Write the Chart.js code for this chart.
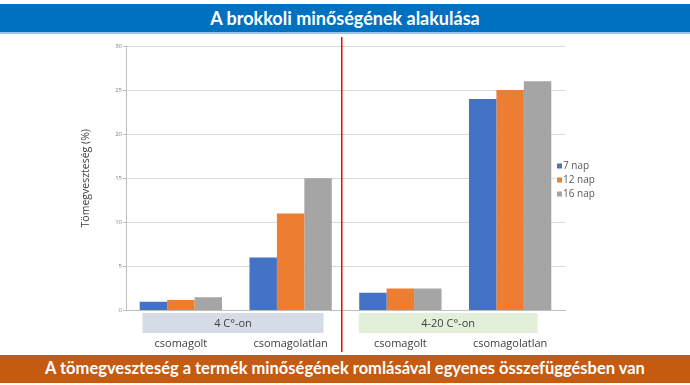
<!DOCTYPE html>
<html>
<head>
<meta charset="utf-8">
<script src="https://cdn.jsdelivr.net/npm/chart.js@4.4.1/dist/chart.umd.min.js"></script>
<style>
  html, body { margin: 0; padding: 0; background: #fff; }
  #wrap { position: relative; width: 690px; height: 385px; overflow: hidden; }
  canvas { position: absolute; left: 0; top: 0; }
  .banner { position: absolute; left: 0; width: 690px; color: #fff; font-family: Lato, "Open Sans", sans-serif; font-weight: bold; text-align: center; white-space: nowrap; }
  #top { top: 4px; height: 30px; line-height: 29px; background: #0070C0; font-size: 18px; border-bottom: 2px solid #9DC3E6; box-sizing: border-box; }
  #bottom { top: 355px; height: 28px; line-height: 27px; background: #C55A11; font-size: 16.5px; }
</style>
</head>
<body>
<div id="wrap">
  <canvas id="c" width="690" height="385"></canvas>
  <div class="banner" id="top">A brokkoli minőségének alakulása</div>
  <div class="banner" id="bottom">A tömegveszteség a termék minőségének romlásával egyenes összefüggésben van</div>
</div>
<script>
const categories = ['csomagolt', 'csomagolatlan', 'csomagolt', 'csomagolatlan'];
const groupLabels = ['4 C°-on', '4-20 C°-on'];
const seriesNames = ['7 nap', '12 nap', '16 nap'];
const nap7 = [1.0, 6, 2.0, 24];
const nap12 = [1.2, 11, 2.5, 25];
const nap16 = [1.5, 15, 2.5, 26];
const yTicks = [0, 5, 10, 15, 20, 25, 30];

const colors = ['#4472C4', '#ED7D31', '#A5A5A5'];
const seriesValues = [nap7, nap12, nap16];

const decorPlugin = {
  id: 'decor',
  beforeDatasetsDraw(chart) {
    const ctx = chart.ctx;
    const x = chart.scales.x;
    const boxes = [
      { from: -0.35, to: 1.3, color: '#D6DCE5', label: groupLabels[0] },
      { from: 1.62, to: 3.25, color: '#E2F0D9', label: groupLabels[1] }
    ];
    ctx.save();
    boxes.forEach(b => {
      const x1 = x.getPixelForValue(b.from);
      const x2 = x.getPixelForValue(b.to);
      ctx.fillStyle = b.color;
      ctx.fillRect(x1, 313, x2 - x1, 20);
      ctx.fillStyle = '#404040';
      ctx.font = '11px "Open Sans", sans-serif';
      ctx.textAlign = 'center';
      ctx.textBaseline = 'middle';
      ctx.fillText(b.label, (x1 + x2) / 2, 323.5);
    });
    ctx.restore();
  },
  afterDraw(chart) {
    const ctx = chart.ctx;
    const x = chart.scales.x;
    ctx.save();
    // red separator
    const rx = Math.round(x.getPixelForValue(1.46));
    ctx.fillStyle = 'rgb(255,0,0)';
    ctx.fillRect(rx, 37, 1.5, 315);
    // legend
    ctx.fillStyle = '#fff';
    ctx.fillRect(556, 156, 50, 46);
    ctx.font = '10px "Open Sans", sans-serif';
    ctx.textBaseline = 'middle';
    ctx.textAlign = 'left';
    seriesNames.forEach((n, i) => {
      const y = 166 + i * 14;
      ctx.fillStyle = colors[i];
      ctx.fillRect(557, y - 2.5, 5, 5);
      ctx.fillStyle = '#595959';
      ctx.fillText(n, 563, y);
    });
    ctx.restore();
  }
};

new Chart(document.getElementById('c'), {
  type: 'bar',
  data: {
    labels: categories,
    datasets: seriesNames.map((n, i) => ({
      label: n,
      data: seriesValues[i],
      backgroundColor: colors[i],
      borderWidth: 0,
      barPercentage: 1.0,
      categoryPercentage: 0.75
    }))
  },
  options: {
    responsive: false,
    animation: false,
    devicePixelRatio: 1,
    layout: { padding: { left: 80, right: 125, top: 46, bottom: 0 } },
    plugins: { legend: { display: false }, tooltip: { enabled: false } },
    scales: {
      x: {
        grid: { display: false, drawTicks: false },
        border: { display: true, color: '#BFBFBF' },
        ticks: { color: '#404040', font: { family: 'Open Sans', size: 11 }, padding: 27, maxRotation: 0 },
        afterFit(s) { s.height = 74.5; }
      },
      y: {
        min: 0, max: 30,
        afterBuildTicks(s) { s.ticks = yTicks.map(v => ({ value: v })); },
        grid: { color: '#D9D9D9', tickLength: 3, tickColor: '#BFBFBF' },
        border: { display: true, color: '#BFBFBF' },
        ticks: { color: '#7F7F7F', font: { family: 'Open Sans', size: 6 }, padding: 1 },
        title: { display: true, text: 'Tömegveszteség (%)', color: '#404040', font: { family: 'Open Sans', size: 10.5 }, padding: { top: 0, bottom: 0 } },
        afterFit(s) { s.width = 46; }
      }
    }
  },
  plugins: [decorPlugin]
});
</script>
</body>
</html>
